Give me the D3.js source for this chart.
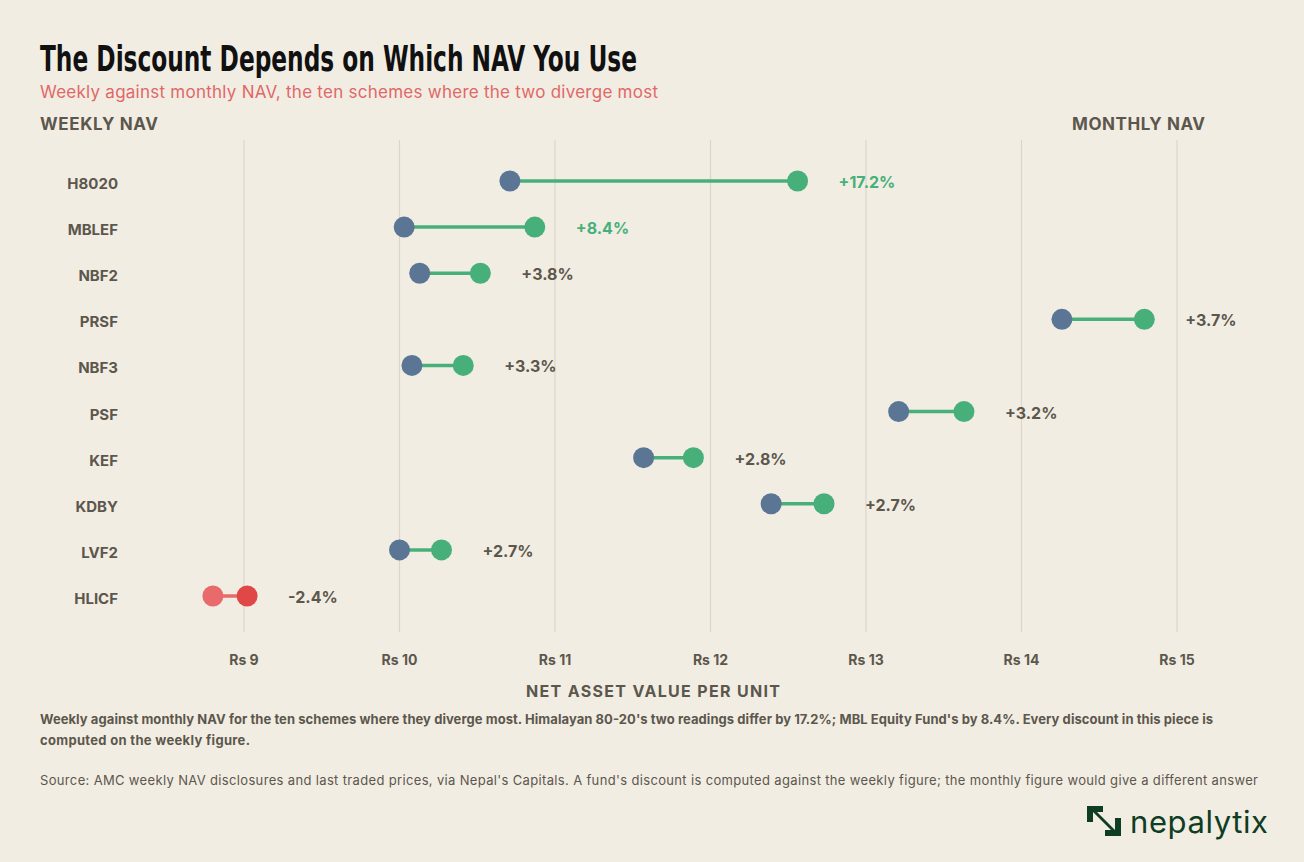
<!DOCTYPE html>
<html><head><meta charset="utf-8">
<script src="https://cdn.jsdelivr.net/npm/d3@7"></script>
<style>body{margin:0;background:#f2ede3;}svg{display:block;font-family:Inter,"Noto Sans",sans-serif;}</style>
</head><body><svg id="c" width="1304" height="862"></svg>
<script>
const schemes=["H8020","MBLEF","NBF2","PRSF","NBF3","PSF","KEF","KDBY","LVF2","HLICF"];
const weekly=[10.71,10.03,10.13,14.26,10.08,13.21,11.57,12.39,10.00,9.02];
const monthly=[12.56,10.87,10.52,14.79,10.41,13.63,11.89,12.73,10.27,8.80];
const diffLabels=["+17.2%","+8.4%","+3.8%","+3.7%","+3.3%","+3.2%","+2.8%","+2.7%","+2.7%","-2.4%"];
const xTicks=[9,10,11,12,13,14,15];

const svg=d3.select("#c");
const x=d3.scaleLinear().domain([9,15]).range([244,1177]);
const y=d3.scalePoint().domain(schemes).range([181,596]);
const blue="#5a7694",green="#47b07a",red="#e04848",redL="#e86a6a",grey="#5c574d";

svg.append("text").attr("x",40).attr("y",71).text("The Discount Depends on Which NAV You Use")
 .attr("font-family","'Liberation Sans Narrow','DejaVu Sans Condensed',sans-serif").attr("font-weight",700)
 .attr("font-size",36).attr("fill","#111").attr("textLength",597).attr("lengthAdjust","spacingAndGlyphs");
svg.append("text").attr("x",40).attr("y",98).text("Weekly against monthly NAV, the ten schemes where the two diverge most")
 .attr("font-size",17).attr("fill","#e06868").attr("textLength",618);
svg.append("text").attr("x",40).attr("y",130).text("WEEKLY NAV").attr("font-size",17).attr("font-weight",700).attr("fill",grey).attr("textLength",118);
svg.append("text").attr("x",1205).attr("y",130).attr("text-anchor","end").text("MONTHLY NAV").attr("font-size",17).attr("font-weight",700).attr("fill",grey).attr("textLength",133);

svg.append("g").selectAll("line").data(xTicks).join("line")
 .attr("x1",d=>x(d)).attr("x2",d=>x(d)).attr("y1",140).attr("y2",632).attr("stroke","#ddd6c8").attr("stroke-width",1.2);
svg.append("g").selectAll("text").data(xTicks).join("text")
 .attr("x",d=>x(d)).attr("y",665).attr("text-anchor","middle").text(d=>"Rs "+d)
 .attr("font-size",14).attr("font-weight",700).attr("fill",grey);
svg.append("text").attr("x",653).attr("y",697).attr("text-anchor","middle").text("NET ASSET VALUE PER UNIT")
 .attr("font-size",16).attr("font-weight",700).attr("fill",grey).attr("textLength",254);

const rows=schemes.map((s,i)=>({s,w:weekly[i],m:monthly[i],l:diffLabels[i],i}));
const g=svg.append("g");
g.selectAll(".cat").data(rows).join("text").attr("x",118).attr("y",d=>y(d.s)+8).attr("text-anchor","end")
 .text(d=>d.s).attr("font-size",15).attr("font-weight",700).attr("fill",grey);
g.selectAll(".seg").data(rows).join("line").attr("x1",d=>x(d.w)).attr("x2",d=>x(d.m))
 .attr("y1",d=>y(d.s)).attr("y2",d=>y(d.s)).attr("stroke",d=>d.m<d.w?redL:green).attr("stroke-width",3.5);
g.selectAll(".wk").data(rows).join("circle").attr("cx",d=>x(d.w)).attr("cy",d=>y(d.s)).attr("r",10.5)
 .attr("fill",d=>d.m<d.w?red:blue);
g.selectAll(".mo").data(rows).join("circle").attr("cx",d=>x(d.m)).attr("cy",d=>y(d.s)).attr("r",10.5)
 .attr("fill",d=>d.m<d.w?redL:green);
g.selectAll(".lab").data(rows).join("text").attr("x",d=>x(Math.max(d.w,d.m))+41).attr("y",d=>y(d.s)+7)
 .text(d=>d.l).attr("font-size",16).attr("font-weight",700).attr("fill",d=>d.i<2?green:grey);

const note=[["Weekly against monthly NAV for the ten schemes where they diverge most. Himalayan 80-20's two readings differ by 17.2%; MBL Equity Fund's by 8.4%. Every discount in this piece is",1173],["computed on the weekly figure.",210]];
note.forEach((t,i)=>svg.append("text").attr("x",40).attr("y",724+i*21).text(t[0]).attr("font-size",13).attr("font-weight",700).attr("fill",grey).attr("textLength",t[1]));
svg.append("text").attr("x",40).attr("y",785).text("Source: AMC weekly NAV disclosures and last traded prices, via Nepal's Capitals. A fund's discount is computed against the weekly figure; the monthly figure would give a different answer")
 .attr("font-size",13).attr("fill",grey).attr("textLength",1218);

const lg=svg.append("g").attr("transform","translate(1087,806)");
lg.append("path").attr("d","M0,0 H16 V6 H10 L28,24 V12 H34 V30 H18 V24 H24 L6,6 V16 H0 Z").attr("fill","#0f3d24");
svg.append("text").attr("x",1130).attr("y",833).text("nepalytix").attr("font-size",31).attr("fill","#0f3d24").attr("textLength",138);
</script></body></html>
